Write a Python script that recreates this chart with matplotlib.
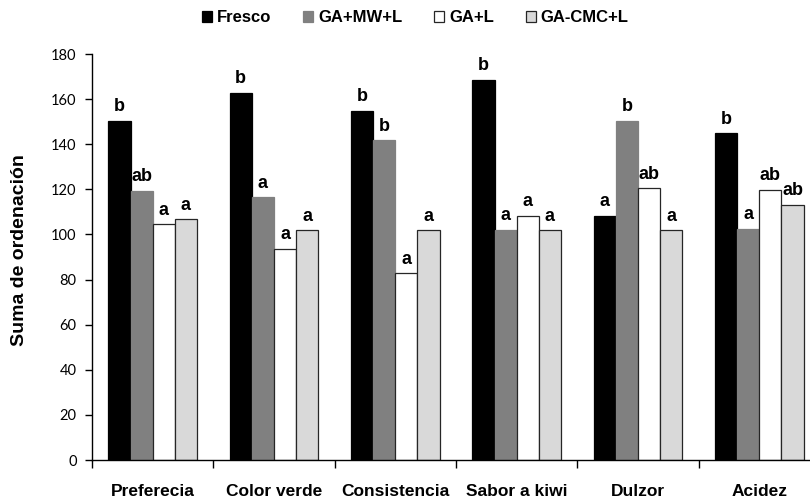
import matplotlib
matplotlib.use('Agg')
import numpy as np
import matplotlib.pyplot as plt

# datos
categories = ['Preferecia', 'Color verde', 'Consistencia', 'Sabor a kiwi', 'Dulzor', 'Acidez']
series_names = ['Fresco', 'GA+MW+L', 'GA+L', 'GA-CMC+L']
fresco = [150.3, 162.7, 154.7, 168.5, 108.3, 144.8]
ga_mw_l = [119.4, 116.5, 141.7, 102.0, 150.4, 102.5]
ga_l = [104.5, 93.7, 82.8, 108.2, 120.5, 119.8]
ga_cmc_l = [106.7, 101.8, 101.8, 101.8, 101.8, 113.0]
# letras de significancia
letters_fresco = ['b', 'b', 'b', 'b', 'a', 'b']
letters_ga_mw_l = ['ab', 'a', 'b', 'a', 'b', 'a']
letters_ga_l = ['a', 'a', 'a', 'a', 'ab', 'ab']
letters_ga_cmc_l = ['a', 'a', 'a', 'a', 'a', 'ab']
y_ticks = [0, 20, 40, 60, 80, 100, 120, 140, 160, 180]

values = [fresco, ga_mw_l, ga_l, ga_cmc_l]
letters = [letters_fresco, letters_ga_mw_l, letters_ga_l, letters_ga_cmc_l]
face = ['#000000', '#808080', '#ffffff', '#d9d9d9']
edge = ['#000000', '#808080', '#262626', '#262626']

bold = {'family': ['Liberation Sans', 'DejaVu Sans'], 'weight': 'bold'}

fig = plt.figure(figsize=(8.1, 5), dpi=100)
# el eje se sale un poco por la derecha, como en la figura original
ax = fig.add_axes([92 / 810, 40 / 500, 728 / 810, 406 / 500])

x = np.arange(len(categories))
w = 0.1826
for i in range(4):
    pos = x + (i - 1.5) * w
    ax.bar(pos, values[i], width=w, color=face[i], edgecolor=edge[i],
           linewidth=0.9, label=series_names[i])
    for xp, v, t in zip(pos, values[i], letters[i]):
        ax.text(xp, v + 2.5, t, ha='center', va='bottom', fontsize=13, **bold)

ax.set_xlim(-0.5, 5.5)
ax.set_ylim(0, 180)
ax.set_yticks(y_ticks)
for lab in ax.get_yticklabels():
    lab.set_family('Lato')
    lab.set_fontsize(10.5)

# ticks en los límites de categorías, etiquetas en el centro
ax.set_xticks(np.arange(len(categories) + 1) - 0.5)
ax.set_xticklabels([])
ax.set_xticks(x, minor=True)
ax.set_xticklabels(categories, minor=True, fontsize=12.5, **bold)
ax.tick_params(axis='x', which='major', direction='out', length=6, width=1)
ax.tick_params(axis='x', which='minor', length=0, pad=17)
ax.tick_params(axis='y', direction='out', length=5, width=1, pad=6)

for s in ['top', 'right']:
    ax.spines[s].set_visible(False)
for s in ['left', 'bottom']:
    ax.spines[s].set_linewidth(1)

fig.text(20 / 810, (500 - 250) / 500, 'Suma de ordenación',
         rotation=90, ha='center', va='center', fontsize=14, **bold)

fig.legend(loc='center', bbox_to_anchor=(0.513, 0.964), ncol=4, frameon=False,
           handlelength=0.6, handleheight=0.6, handletextpad=0.3, columnspacing=1.9,
           prop={'family': ['Liberation Sans'], 'weight': 'bold', 'size': 12})

fig.savefig('out.png', dpi=100)
